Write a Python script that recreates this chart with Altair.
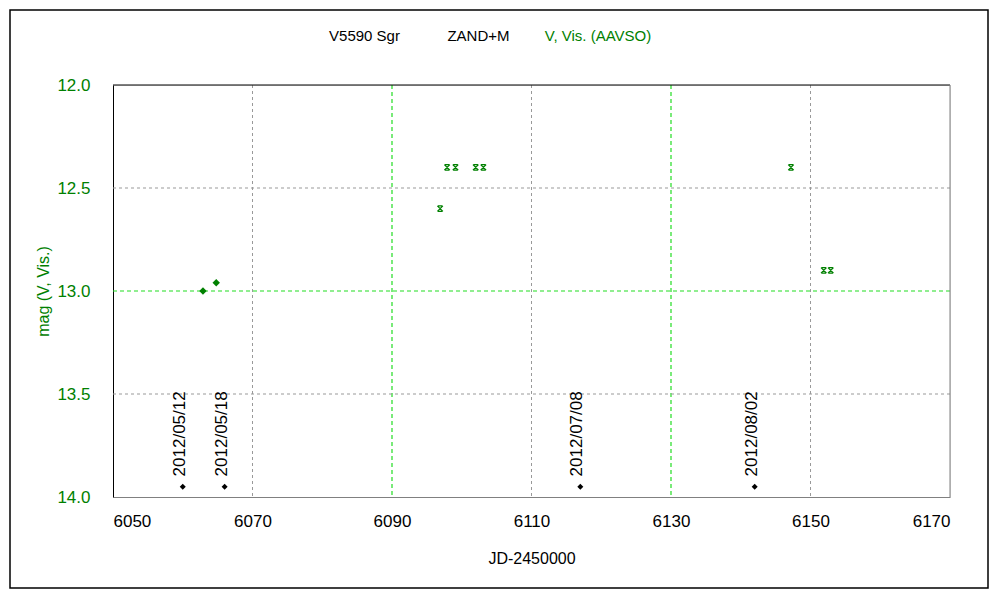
import altair as alt
import pandas as pd

# ---- data ----
diam_jd = [6062.9, 6064.8]
diam_mag = [13.0, 12.96]

x_jd = [6096.9, 6097.9, 6099.1, 6102.0, 6103.1, 6147.2, 6151.9, 6152.9]
x_mag = [12.6, 12.4, 12.4, 12.4, 12.4, 12.4, 12.9, 12.9]

date_jd = [6060, 6066, 6117, 6142]
date_txt = ["2012/05/12", "2012/05/18", "2012/07/08", "2012/08/02"]
date_mag = [13.95, 13.95, 13.95, 13.95]

grid_x_minor = [6070, 6110, 6150]
grid_x_major = [6090, 6130]
grid_y_minor = [12.5, 13.5]
grid_y_major = [13.0]

x_ticks = [6050, 6070, 6090, 6110, 6130, 6150, 6170]
y_ticks = [12.0, 12.5, 13.0, 13.5, 14.0]

W, H = 837, 412
FONT = "Liberation Sans"
GREEN = "#008000"

xs = alt.Scale(domain=[6050, 6170], nice=False, zero=False)
ys = alt.Scale(domain=[12, 14], nice=False, zero=False, reverse=True)

df_d = pd.DataFrame({"jd": diam_jd, "mag": diam_mag})
df_x = pd.DataFrame({"jd": x_jd, "mag": x_mag})
df_date = pd.DataFrame({"jd": date_jd, "mag": date_mag, "txt": date_txt})

base = alt.Chart(df_d).mark_point(
    shape="diamond", filled=True, color=GREEN, size=55, opacity=1
).encode(
    x=alt.X("jd:Q", scale=xs, axis=alt.Axis(
        values=x_ticks, format="d", title="JD-2450000", grid=False, ticks=False,
        domainColor="#808080", labelColor="black", labelFontSize=17, labelFont=FONT,
        labelPadding=16, titleFont=FONT, titleFontSize=16, titleFontWeight="normal",
        titleColor="black", titleY=61, titleBaseline="middle")),
    y=alt.Y("mag:Q", scale=ys, axis=alt.Axis(
        values=y_ticks, format=".1f", title="mag (V, Vis.)", grid=False, ticks=False,
        domainColor="black", labelColor=GREEN, labelFontSize=17, labelFont=FONT,
        labelPadding=23, titleFont=FONT, titleFontSize=16, titleFontWeight="normal",
        titleColor=GREEN, titleX=-70, titleY=H / 2, titleAngle=270,
        titleAlign="center", titleBaseline="middle")),
)

# minor grid: grey dashed; major grid: bright green dashed
gx_minor = alt.Chart(pd.DataFrame({"v": grid_x_minor})).mark_rule(
    color="#999999", strokeDash=[3, 3], strokeWidth=1).encode(x=alt.X("v:Q", scale=xs))
gx_major = alt.Chart(pd.DataFrame({"v": grid_x_major})).mark_rule(
    color="#22dd22", strokeDash=[4, 3], strokeWidth=1.2).encode(x=alt.X("v:Q", scale=xs))
gy_minor = alt.Chart(pd.DataFrame({"v": grid_y_minor})).mark_rule(
    color="#999999", strokeDash=[3, 3], strokeWidth=1).encode(y=alt.Y("v:Q", scale=ys))
gy_major = alt.Chart(pd.DataFrame({"v": grid_y_major})).mark_rule(
    color="#22dd22", strokeDash=[4, 3], strokeWidth=1.2).encode(y=alt.Y("v:Q", scale=ys))

xmark_path = "M-1,-1L1,1M1,-1L-1,1M-0.8,-1L0.8,-1M-0.8,1L0.8,1"
xpts = alt.Chart(df_x).mark_point(
    shape=xmark_path, filled=False, color=GREEN, size=30, strokeWidth=1.3, opacity=1
).encode(x=alt.X("jd:Q", scale=xs), y=alt.Y("mag:Q", scale=ys))

dots = alt.Chart(df_date).mark_point(
    shape="diamond", filled=True, color="black", size=36, opacity=1
).encode(x=alt.X("jd:Q", scale=xs), y=alt.Y("mag:Q", scale=ys))

labels = alt.Chart(df_date).transform_calculate(
    ly="datum.mag - 0.05"
).mark_text(
    angle=270, align="left", baseline="middle", font=FONT, fontSize=17, color="black",
    dy=-3
).encode(x=alt.X("jd:Q", scale=xs), y=alt.Y("ly:Q", scale=ys), text="txt:N")

one = alt.Data(values=[{}])
top_line = alt.Chart(one).mark_rule(color="black").encode(
    x=alt.value(0), x2=alt.value(W), y=alt.value(0))
right_line = alt.Chart(one).mark_rule(color="#808080").encode(
    x=alt.value(W), y=alt.value(0), y2=alt.value(H))
frame = alt.Chart(one).mark_rect(
    fillOpacity=0, stroke="black", strokeWidth=1.5).encode(
    x=alt.value(-103), x2=alt.value(875), y=alt.value(-75), y2=alt.value(503))

def title_part(txt, cx, col):
    return alt.Chart(one).mark_text(
        font=FONT, fontSize=15, color=col, align="center", baseline="middle"
    ).encode(x=alt.value(cx), y=alt.value(-49), text=alt.value(txt))

t1 = title_part("V5590 Sgr", 251.5, "black")
t2 = title_part("ZAND+M", 365.5, "black")
t3 = title_part("V, Vis. (AAVSO)", 485, GREEN)

chart = alt.layer(
    gx_minor, gx_major, gy_minor, gy_major, top_line, right_line,
    base, xpts, dots, labels, frame, t1, t2, t3
).properties(
    width=W, height=H,
    autosize=alt.AutoSizeParams(type="none"),
    padding={"left": 105, "top": 77, "right": 42, "bottom": 95},
).configure_view(stroke=None).configure(background="white")

chart.save("out.html", embed_options={"renderer": "svg", "actions": False})
